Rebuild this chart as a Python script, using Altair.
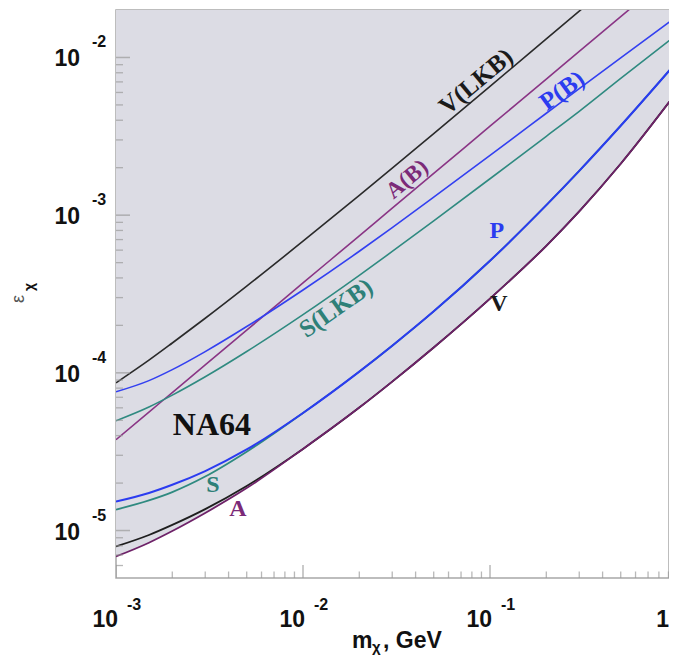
import altair as alt
import pandas as pd

# ---- axis ranges (plot ends at the right edge of the page, just short of m = 1 GeV) ----
X_MIN, X_MAX = 1e-3, 0.906
Y_MIN, Y_MAX = 5e-6, 2e-2
W, H = 553, 568

# ---- curve values (m in GeV, epsilon) ----
mass = [1e-3, 1.5e-3, 2e-3, 3e-3, 5e-3, 1e-2, 2e-2, 3e-2, 5e-2, 1e-1, 2e-1, 3e-1, 5e-1, 1.0]

v_lkb = [8.64e-5, 1.203e-4, 1.546e-4, 2.219e-4, 3.548e-4, 6.836e-4, 1.336e-3, 1.987e-3,
         3.290e-3, 6.554e-3, 1.311e-2, 1.967e-2, 3.280e-2, 6.563e-2]
a_b = [3.767e-5, 5.64e-5, 7.50e-5, 1.122e-4, 1.866e-4, 3.715e-4, 7.40e-4, 1.107e-3,
       1.840e-3, 3.664e-3, 7.30e-3, 1.092e-2, 1.815e-2, 3.614e-2]
p_b = [7.58e-5, 8.925e-5, 1.048e-4, 1.364e-4, 1.966e-4, 3.352e-4, 5.901e-4, 8.335e-4,
       1.300e-3, 2.394e-3, 4.428e-3, 6.346e-3, 9.956e-3, 1.820e-2]
s_lkb = [4.968e-5, 6.074e-5, 7.225e-5, 9.447e-5, 1.366e-4, 2.339e-4, 4.153e-4, 5.884e-4,
         9.203e-4, 1.702e-3, 3.162e-3, 4.552e-3, 7.363e-3, 1.398e-2]
p_na64 = [1.526e-5, 1.730e-5, 1.950e-5, 2.383e-5, 3.266e-5, 5.566e-5, 1.018e-4, 1.486e-4,
          2.454e-4, 5.138e-4, 1.157e-3, 1.910e-3, 3.691e-3, 9.406e-3]
s_na64 = [1.358e-5, 1.553e-5, 1.754e-5, 2.200e-5, 3.162e-5, 5.566e-5, 1.018e-4, 1.486e-4,
          2.454e-4, 5.138e-4, 1.157e-3, 1.910e-3, 3.691e-3, 9.406e-3]
v_na64 = [7.921e-6, 9.365e-6, 1.085e-5, 1.366e-5, 1.916e-5, 3.294e-5, 6.021e-5, 8.796e-5,
          1.448e-4, 2.957e-4, 6.393e-4, 1.057e-3, 2.118e-3, 6.057e-3]
a_na64 = [6.845e-6, 8.373e-6, 9.927e-6, 1.292e-5, 1.858e-5, 3.294e-5, 6.021e-5, 8.796e-5,
          1.448e-4, 2.957e-4, 6.393e-4, 1.057e-3, 2.118e-3, 6.057e-3]

# ---- curve labels ----
lab_text = ["V(LKB)", "A(B)", "P(B)", "S(LKB)", "P", "V", "S", "A", "NA64"]
lab_m = [0.0841, 0.0360, 0.2427, 0.0150, 0.1089, 0.1117, 3.30e-3, 4.49e-3, 3.26e-3]
lab_eps = [7.05e-3, 1.69e-3, 6.18e-3, 2.58e-4, 7.93e-4, 2.75e-4, 1.95e-5, 1.36e-5, 4.69e-5]
lab_angle = [320, 320, 324, 325, 0, 0, 0, 0, 0]
lab_color = ["#1a1a1a", "#7b2a78", "#2b3cf0", "#2e8078", "#2b3cf0", "#1a1a1a", "#2e8078", "#7b2a78", "#111111"]
lab_size = [25, 23, 25, 25, 24, 24, 24, 24, 32]

# ---- ticks ----
xt_major = [1e-3, 1e-2, 1e-1]
xt_minor = [k * 10.0 ** d for d in (-3, -2, -1) for k in range(2, 10)]
yt_major = [1e-5, 1e-4, 1e-3, 1e-2]
yt_minor = [k * 1e-6 for k in range(6, 10)] + [k * 10.0 ** d for d in (-5, -4, -3) for k in range(2, 10)]
x_exp = ["-3", "-2", "-1"]
y_exp = ["-5", "-4", "-3", "-2"]

xs = alt.Scale(type="log", domain=[X_MIN, X_MAX])
ys = alt.Scale(type="log", domain=[Y_MIN, Y_MAX])


def X():
    return alt.X("m:Q", scale=xs, axis=None)


def Y():
    return alt.Y("eps:Q", scale=ys, axis=None)


layers = []

# shaded excluded region above the lowest NA64 curve
shade = pd.DataFrame({"m": mass, "eps": a_na64, "top": [Y_MAX] * len(mass)})
layers.append(
    alt.Chart(shade)
    .mark_area(color="#dcdce4", interpolate="monotone", clip=True)
    .encode(X(), Y(), y2="top:Q")
)

curves = [
    (v_lkb, "#2a2a2a", 1.6),
    (a_b, "#8a3585", 1.6),
    (p_b, "#3340f0", 1.6),
    (s_lkb, "#2f8a80", 1.6),
    (s_na64, "#2f8a80", 1.8),
    (p_na64, "#2b3cf0", 2.0),
    (v_na64, "#1e1e1e", 1.8),
    (a_na64, "#6e2268", 1.8),
]
for vals, col, w in curves:
    df = pd.DataFrame({"m": mass, "eps": vals})
    layers.append(
        alt.Chart(df)
        .mark_line(color=col, strokeWidth=w, interpolate="monotone", clip=True)
        .encode(X(), Y())
    )

# inward ticks
tick_col = "#9a9a9a"
layers.append(
    alt.Chart(pd.DataFrame({"m": xt_major, "eps": [Y_MIN] * len(xt_major)}))
    .mark_tick(orient="vertical", size=26, thickness=1.5, color=tick_col, clip=True)
    .encode(X(), Y())
)
layers.append(
    alt.Chart(pd.DataFrame({"m": xt_minor, "eps": [Y_MIN] * len(xt_minor)}))
    .mark_tick(orient="vertical", size=13, thickness=1.3, color=tick_col, clip=True)
    .encode(X(), Y())
)
layers.append(
    alt.Chart(pd.DataFrame({"m": [X_MIN] * len(yt_major), "eps": yt_major}))
    .mark_tick(orient="horizontal", size=28, thickness=1.5, color=tick_col, clip=True)
    .encode(X(), Y())
)
layers.append(
    alt.Chart(pd.DataFrame({"m": [X_MIN] * len(yt_minor), "eps": yt_minor}))
    .mark_tick(orient="horizontal", size=14, thickness=1.3, color=tick_col, clip=True)
    .encode(X(), Y())
)

# tick labels (10 with superscript exponent)
sans = "Liberation Sans"
xl = pd.DataFrame({"m": xt_major, "eps": [Y_MIN] * 3, "t": ["10"] * 3, "e": x_exp})
layers.append(
    alt.Chart(xl).mark_text(font=sans, fontWeight="bold", fontSize=23, align="right",
                            baseline="alphabetic", dx=2, dy=49, color="#111")
    .encode(X(), Y(), text="t:N")
)
layers.append(
    alt.Chart(xl).mark_text(font=sans, fontWeight="bold", fontSize=16, align="left",
                            baseline="alphabetic", dx=11, dy=32, color="#111")
    .encode(X(), Y(), text="e:N")
)
# the "1" label of m = 1 GeV sits at the right edge
layers.append(
    alt.Chart(pd.DataFrame({"m": [X_MAX], "eps": [Y_MIN], "t": ["1"]}))
    .mark_text(font=sans, fontWeight="bold", fontSize=23, align="right",
               baseline="alphabetic", dx=0, dy=49, color="#111")
    .encode(X(), Y(), text="t:N")
)
yl = pd.DataFrame({"m": [X_MIN] * 4, "eps": yt_major, "t": ["10"] * 4, "e": y_exp})
layers.append(
    alt.Chart(yl).mark_text(font=sans, fontWeight="bold", fontSize=23, align="right",
                            baseline="alphabetic", dx=-36, dy=9, color="#111")
    .encode(X(), Y(), text="t:N")
)
layers.append(
    alt.Chart(yl).mark_text(font=sans, fontWeight="bold", fontSize=16, align="left",
                            baseline="alphabetic", dx=-24, dy=-10, color="#111")
    .encode(X(), Y(), text="e:N")
)

# curve labels
labs = pd.DataFrame({"m": lab_m, "eps": lab_eps, "t": lab_text, "a": lab_angle,
                     "c": lab_color, "s": lab_size})
layers.append(
    alt.Chart(labs)
    .mark_text(font="Liberation Serif", fontWeight="bold", align="center", baseline="middle")
    .encode(X(), Y(), text="t:N",
            angle=alt.Angle("a:Q", scale=None),
            color=alt.Color("c:N", scale=None),
            size=alt.Size("s:Q", scale=None))
)

# axis titles
dummy = pd.DataFrame({"k": [0]})
layers.append(alt.Chart(dummy).mark_text(text="m", font=sans, fontWeight="bold", fontSize=23,
                                         align="left", baseline="alphabetic", color="#111")
              .encode(x=alt.value(236), y=alt.value(638)))
layers.append(alt.Chart(dummy).mark_text(text="χ", font=sans, fontWeight="bold", fontSize=15,
                                         align="left", baseline="alphabetic", color="#111")
              .encode(x=alt.value(256), y=alt.value(642)))
layers.append(alt.Chart(dummy).mark_text(text=", GeV", font=sans, fontWeight="bold", fontSize=23,
                                         align="left", baseline="alphabetic", color="#111")
              .encode(x=alt.value(267), y=alt.value(638)))
layers.append(alt.Chart(dummy).mark_text(text="ε", font=sans, fontSize=18, angle=270,
                                         align="center", baseline="middle", color="#555")
              .encode(x=alt.value(-97), y=alt.value(289)))
layers.append(alt.Chart(dummy).mark_text(text="χ", font=sans, fontWeight="bold", fontSize=14, angle=270,
                                         align="center", baseline="middle", color="#111")
              .encode(x=alt.value(-86), y=alt.value(277)))

chart = (
    alt.layer(*layers)
    .properties(width=W, height=H, background="white",
                padding={"left": 108, "top": 2, "right": 0, "bottom": 77},
                autosize=alt.AutoSizeParams(type="none"))
    .configure_view(stroke="#a8a8a8", strokeWidth=1.5)
)

chart.save("out.html", embed_options={"renderer": "svg", "actions": False})
